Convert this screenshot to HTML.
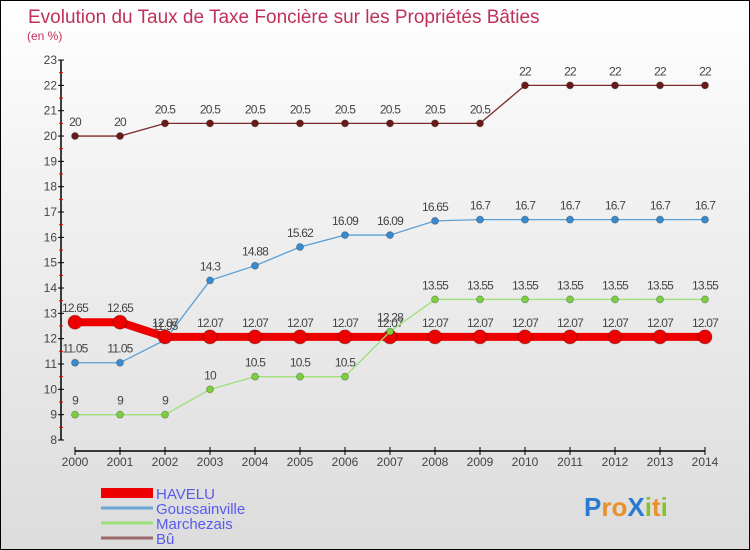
<!DOCTYPE html>
<html><head><meta charset="utf-8"><style>
html,body{margin:0;padding:0}
body{width:750px;height:550px;overflow:hidden;font-family:"Liberation Sans",sans-serif}
#wrap{position:absolute;left:0;top:0;width:748px;height:548px;border:1px solid #000;background:linear-gradient(#fff,#f3f3f3 30%,#dcdcdc)}
</style></head><body>
<div id="wrap">
<svg id="chart" width="748" height="548" style="position:absolute;left:0;top:0"></svg>
</div>
<script>
const years=[2000,2001,2002,2003,2004,2005,2006,2007,2008,2009,2010,2011,2012,2013,2014];
const havelu=[12.65,12.65,12.07,12.07,12.07,12.07,12.07,12.07,12.07,12.07,12.07,12.07,12.07,12.07,12.07];
const gouss=[11.05,11.05,11.95,14.3,14.88,15.62,16.09,16.09,16.65,16.7,16.7,16.7,16.7,16.7,16.7];
const march=[9,9,9,10,10.5,10.5,10.5,12.28,13.55,13.55,13.55,13.55,13.55,13.55,13.55];
const bu=[20,20,20.5,20.5,20.5,20.5,20.5,20.5,20.5,20.5,22,22,22,22,22];
const yTicks=[8,9,10,11,12,13,14,15,16,17,18,19,20,21,22,23];
const NS="http://www.w3.org/2000/svg";
const svg=document.getElementById('chart');
const X=y=>74+(y-2000)*45;
const Y=v=>439-(v-8)*25.33;
function mk(t,a,p){const e=document.createElementNS(NS,t);for(const k in a)e.setAttribute(k,a[k]);(p||svg).appendChild(e);return e;}
function txt(x,y,s,o,p){const e=mk('text',Object.assign({x:x,y:y,'font-family':'Liberation Sans, sans-serif','font-size':12,fill:'#444'},o||{}),p);e.textContent=s;return e;}
let t=txt(27,22,'Evolution du Taux de Taxe Foncière sur les Propriétés Bâties',{'font-size':19,fill:'#c0305a'});

t=txt(26,39,'(en %)',{'font-size':12,fill:'#c0305a'});

let a=mk('line',{x1:60,y1:Y(23),x2:60,y2:Y(8),stroke:'#000','stroke-width':1.5});

yTicks.forEach(v=>{mk('line',{x1:57,x2:63,y1:Y(v),y2:Y(v),stroke:'#000'});
 if(v<23)mk('line',{x1:58,x2:62,y1:Y(v+0.5),y2:Y(v+0.5),stroke:'#e00'});
 const l=txt(56,Y(v)+4,String(v),{'text-anchor':'end','font-size':12});
 });
a=mk('line',{x1:X(2000),y1:450,x2:X(2014),y2:450,stroke:'#000','stroke-width':1.5});

years.forEach(y=>{mk('line',{x1:X(y),x2:X(y),y1:446,y2:454,stroke:'#000'});
 const l=txt(X(y),465,String(y),{'text-anchor':'middle','font-size':12});
 });
function series(vals,color,w,r,name,fill){
 const g=mk('g',{});
 mk('polyline',{points:vals.map((v,i)=>X(years[i])+','+Y(v)).join(' '),fill:'none',stroke:color,'stroke-width':w},g);
 vals.forEach((v,i)=>{const c=mk('circle',{cx:X(years[i]),cy:Y(v),r:r,fill:fill,stroke:'rgba(0,0,0,0.25)'},g);
  
  const l=txt(X(years[i]),Y(v)-10,String(v),{'text-anchor':'middle','font-size':12,'letter-spacing':'-0.8'},g);
  });
}
series(bu,'#7a2a2a',1.3,3.5,'bu','#6b1a1a');
series(gouss,'#5aa0d8',1.3,3.5,'goussainville','#3a8ad0');
series(havelu,'#ee0000',8,7,'havelu','#ee0000');
series(march,'#9ee07a',1.3,3.5,'marchezais','#7cd040');
const leg=[['HAVELU','#ee0000',10],['Goussainville','#6aa8d8',3],['Marchezais','#9ee07a',3],['Bû','#9a6a6a',3]];
leg.forEach((d,i)=>{const g=mk('g',{});
 const y=492+i*15;mk('line',{x1:100,x2:152,y1:y,y2:y,stroke:d[1],'stroke-width':d[2]},g);
 txt(155,y+6,d[0],{'font-size':15,fill:'#5a5aee'},g);});
const lg=mk('text',{x:583,y:515,'font-family':'Liberation Sans, sans-serif','font-size':26,'font-weight':'bold'});

[['P','#2a7ad0'],['ro','#e8902a'],['X','#2a7ad0'],['i','#8ac030'],['t','#e8902a'],['i','#8ac030']].forEach(p=>{const s=mk('tspan',{fill:p[1]},lg);s.textContent=p[0];});
</script>
</body></html>
